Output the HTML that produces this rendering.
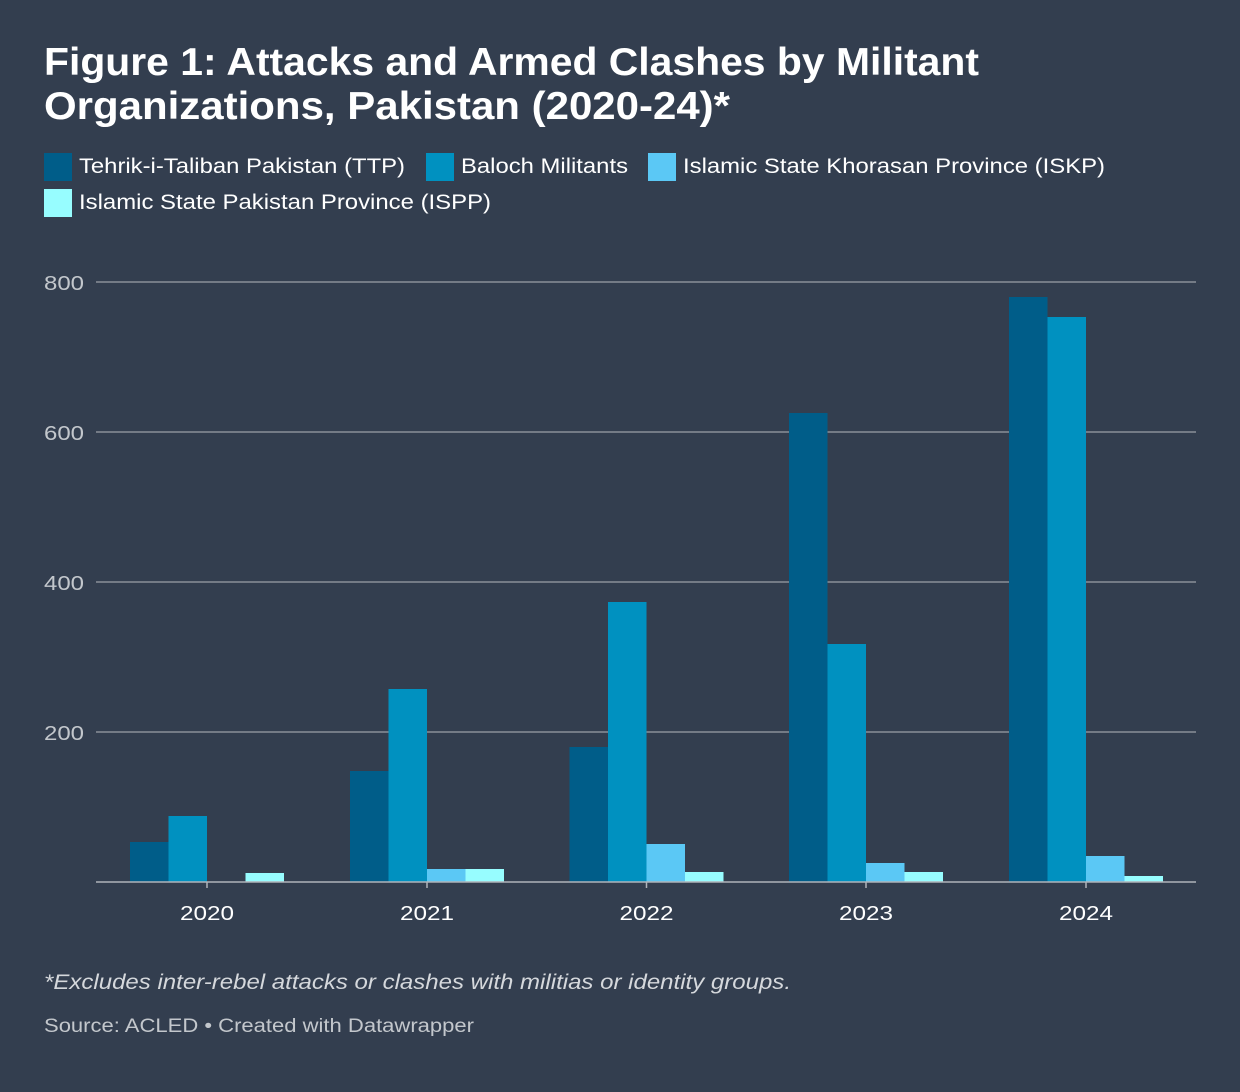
<!DOCTYPE html>
<html><head><meta charset="utf-8"><style>
body{margin:0;width:1240px;height:1092px;background:#333e4f;font-family:"Liberation Sans",Arial,sans-serif;color:#fff;overflow:hidden}
</style></head><body>
<svg width="1240" height="1092" xmlns="http://www.w3.org/2000/svg" style="position:absolute;left:0;top:0">
<rect width="1240" height="1092" fill="#333e4f"/>
<g font-family="Liberation Sans, Arial, sans-serif">
<text x="44" y="75" font-size="39" font-weight="bold" fill="#fff" textLength="935" lengthAdjust="spacingAndGlyphs">Figure 1: Attacks and Armed Clashes by Militant</text>
<text x="44" y="119" font-size="39" font-weight="bold" fill="#fff" textLength="686" lengthAdjust="spacingAndGlyphs">Organizations, Pakistan (2020-24)*</text>
<rect x="44" y="153" width="28" height="28" fill="#005d89"/>
<text x="79" y="173" font-size="21" fill="#fff" textLength="326" lengthAdjust="spacingAndGlyphs">Tehrik-i-Taliban Pakistan (TTP)</text>
<rect x="426" y="153" width="28" height="28" fill="#0091c0"/>
<text x="461" y="173" font-size="21" fill="#fff" textLength="167" lengthAdjust="spacingAndGlyphs">Baloch Militants</text>
<rect x="648" y="153" width="28" height="28" fill="#5bc8f5"/>
<text x="683" y="173" font-size="21" fill="#fff" textLength="422" lengthAdjust="spacingAndGlyphs">Islamic State Khorasan Province (ISKP)</text>
<rect x="44" y="189" width="28" height="28" fill="#97fdff"/>
<text x="79" y="209" font-size="21" fill="#fff" textLength="412" lengthAdjust="spacingAndGlyphs">Islamic State Pakistan Province (ISPP)</text>
<g stroke="#8a8f98" stroke-width="1.5">
<line x1="96" x2="1196" y1="282" y2="282"/><line x1="96" x2="1196" y1="432" y2="432"/>
<line x1="96" x2="1196" y1="582" y2="582"/><line x1="96" x2="1196" y1="732" y2="732"/>
</g>
<g font-size="20" fill="#c3c7cc">
<text x="44" y="290" textLength="40" lengthAdjust="spacingAndGlyphs">800</text><text x="44" y="440" textLength="40" lengthAdjust="spacingAndGlyphs">600</text><text x="44" y="590" textLength="40" lengthAdjust="spacingAndGlyphs">400</text><text x="44" y="740" textLength="40" lengthAdjust="spacingAndGlyphs">200</text>
</g>
<g fill="#005d89">
<rect x="130" y="842" width="38.5" height="40"/><rect x="350" y="771" width="38.5" height="111"/>
<rect x="569.5" y="747" width="38.5" height="135"/><rect x="789" y="413" width="38.5" height="469"/>
<rect x="1009" y="297" width="38.5" height="585"/>
</g>
<g fill="#0091c0">
<rect x="168.5" y="816" width="38.5" height="66"/><rect x="388.5" y="689" width="38.5" height="193"/>
<rect x="608" y="602" width="38.5" height="280"/><rect x="827.5" y="644" width="38.5" height="238"/>
<rect x="1047.5" y="317" width="38.5" height="565"/>
</g>
<g fill="#5bc8f5">
<rect x="427" y="869" width="38.5" height="13"/><rect x="646.5" y="844" width="38.5" height="38"/>
<rect x="866" y="863" width="38.5" height="19"/><rect x="1086" y="856" width="38.5" height="26"/>
</g>
<g fill="#97fdff">
<rect x="245.5" y="873" width="38.5" height="9"/><rect x="465.5" y="869" width="38.5" height="13"/>
<rect x="685" y="872" width="38.5" height="10"/><rect x="904.5" y="872" width="38.5" height="10"/>
<rect x="1124.5" y="876" width="38.5" height="6"/>
</g>
<line x1="96" x2="1196" y1="882" y2="882" stroke="#b0b4ba" stroke-width="1.5"/>
<g stroke="#b0b4ba" stroke-width="1.5">
<line x1="207" x2="207" y1="882" y2="888"/><line x1="427" x2="427" y1="882" y2="888"/>
<line x1="646.5" x2="646.5" y1="882" y2="888"/><line x1="866" x2="866" y1="882" y2="888"/>
<line x1="1086" x2="1086" y1="882" y2="888"/>
</g>
<g font-size="20" fill="#fff">
<text x="180" y="920" textLength="54" lengthAdjust="spacingAndGlyphs">2020</text><text x="400" y="920" textLength="54" lengthAdjust="spacingAndGlyphs">2021</text><text x="619.5" y="920" textLength="54" lengthAdjust="spacingAndGlyphs">2022</text>
<text x="839" y="920" textLength="54" lengthAdjust="spacingAndGlyphs">2023</text><text x="1059" y="920" textLength="54" lengthAdjust="spacingAndGlyphs">2024</text>
</g>
<text x="44" y="989" font-size="21" font-style="italic" fill="#d5d8dc" textLength="747" lengthAdjust="spacingAndGlyphs">*Excludes inter-rebel attacks or clashes with militias or identity groups.</text>
<text x="44" y="1032" font-size="19" fill="#c3c7cc" textLength="430" lengthAdjust="spacingAndGlyphs">Source: ACLED • Created with Datawrapper</text>
</g>
</svg>
</body></html>
